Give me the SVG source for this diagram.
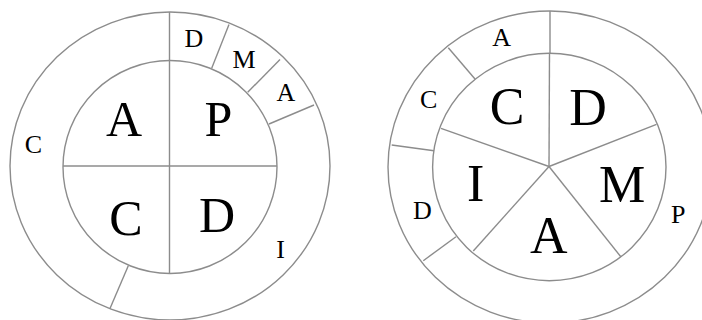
<svg xmlns="http://www.w3.org/2000/svg" width="702" height="320" viewBox="0 0 702 320">
<style>
.ln{fill:none;stroke:#8c8c8c;stroke-width:1.4}
text{font-family:'Liberation Serif','DejaVu Serif',serif;fill:#000;text-anchor:middle}
.s{font-size:26px}
.b{font-size:50px}
.b2{font-size:52px}
</style>
<rect width="702" height="320" fill="#fff"/>
<g id="left" font-family="Liberation Serif, serif">
  <g id="left-rings">
    <ellipse class="ln" cx="170" cy="166" rx="160" ry="154"/>
    <ellipse class="ln" cx="170" cy="167" rx="107" ry="106.5"/>
  </g>
  <g id="left-connectors">
    <line class="ln" x1="169.5" y1="12" x2="169.5" y2="273.5"/>
    <line class="ln" x1="63" y1="166" x2="277" y2="166"/>
    <line class="ln" x1="229" y1="24.5" x2="211.7" y2="68.3"/>
    <line class="ln" x1="280" y1="59.5" x2="247.7" y2="92.3"/>
    <line class="ln" x1="314" y1="105" x2="269" y2="124"/>
    <line class="ln" x1="128.3" y1="265.7" x2="110" y2="308.5"/>
  </g>
  <g id="left-inner-A"><text class="b" x="124" y="136">A</text></g>
  <g id="left-inner-P"><text class="b" x="218.5" y="136">P</text></g>
  <g id="left-inner-C"><text class="b" x="126" y="234.5">C</text></g>
  <g id="left-inner-D"><text class="b" x="217" y="231.7">D</text></g>
  <g id="left-outer-D"><text class="s" x="194" y="46.7">D</text></g>
  <g id="left-outer-M"><text class="s" x="244" y="67.7">M</text></g>
  <g id="left-outer-A"><text class="s" x="286" y="101">A</text></g>
  <g id="left-outer-C"><text class="s" x="33.3" y="152.5">C</text></g>
  <g id="left-outer-I"><text class="s" x="280.5" y="258.3">I</text></g>
</g>
<g id="right" font-family="Liberation Serif, serif">
  <g id="right-rings">
    <ellipse class="ln" cx="550" cy="167" rx="162" ry="156"/>
    <ellipse class="ln" cx="549.3" cy="167" rx="116.7" ry="113.7"/>
  </g>
  <g id="right-connectors">
    <line class="ln" x1="550" y1="11" x2="550" y2="53.3"/>
    <line class="ln" x1="549.5" y1="53.3" x2="549" y2="166.5"/>
    <line class="ln" x1="549" y1="166.5" x2="656.5" y2="124.3"/>
    <line class="ln" x1="549" y1="166.5" x2="621" y2="257"/>
    <line class="ln" x1="549" y1="166.5" x2="473.3" y2="251"/>
    <line class="ln" x1="549" y1="166.5" x2="441" y2="128.3"/>
    <line class="ln" x1="448.3" y1="47.7" x2="475" y2="79"/>
    <line class="ln" x1="391.7" y1="145" x2="434" y2="150.7"/>
    <line class="ln" x1="423.3" y1="260.7" x2="456" y2="236.7"/>
  </g>
  <g id="right-inner-C"><text class="b2" x="507" y="124">C</text></g>
  <g id="right-inner-D"><text class="b2" x="588" y="124.5">D</text></g>
  <g id="right-inner-M"><text class="b2" x="622" y="201.7">M</text></g>
  <g id="right-inner-I"><text class="b2" x="475.7" y="201">I</text></g>
  <g id="right-inner-A"><text class="b2" x="548.7" y="253">A</text></g>
  <g id="right-outer-A"><text class="s" x="501.7" y="46">A</text></g>
  <g id="right-outer-C"><text class="s" x="428.7" y="107.5">C</text></g>
  <g id="right-outer-D"><text class="s" x="422.3" y="219">D</text></g>
  <g id="right-outer-P"><text class="s" x="678.3" y="222.7">P</text></g>
</g>
</svg>
